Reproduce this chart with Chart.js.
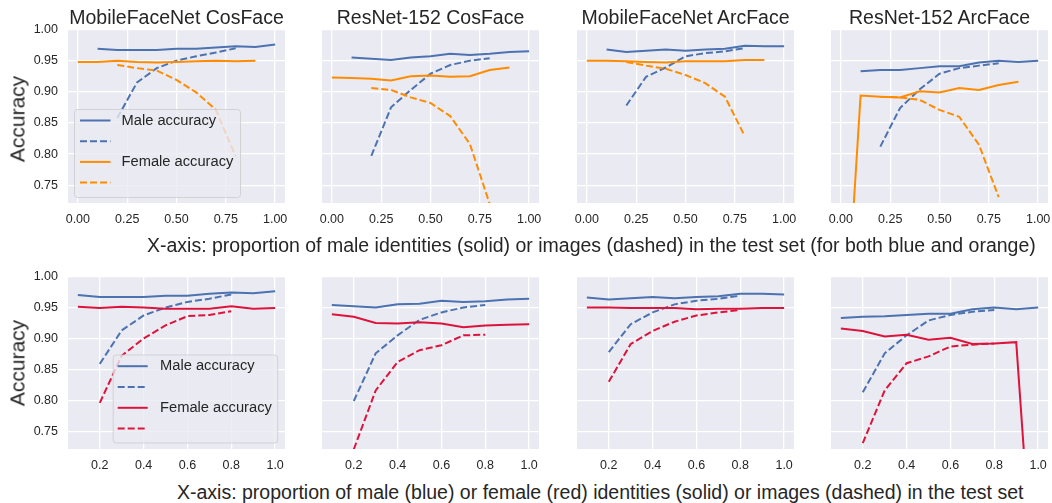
<!DOCTYPE html>
<html><head><meta charset="utf-8">
<script src="https://cdn.jsdelivr.net/npm/chart.js@4.4.1/dist/chart.umd.min.js"></script>
<style>
html,body{margin:0;padding:0;background:#fff;width:1052px;height:503px;overflow:hidden;position:relative;font-family:"Liberation Sans",Arial,sans-serif;color:#262626;}
canvas{position:absolute;}
.t{position:absolute;white-space:nowrap;line-height:1;color:#262626;}
</style></head><body>
<script>
// ---------- x values ----------
const maleIdPropTop   = [0.1,0.2,0.3,0.4,0.5,0.6,0.7,0.8,0.9,1.0];
const femaleIdPropTop = [0.0,0.1,0.2,0.3,0.4,0.5,0.6,0.7,0.8,0.9];
const imgProp         = [0.2,0.3,0.4,0.5,0.6,0.7,0.8];
const idPropBottom    = [0.1,0.2,0.3,0.4,0.5,0.6,0.7,0.8,0.9,1.0];

// ---------- tick values / labels ----------
const topXTicks = [0, 0.25, 0.5, 0.75, 1.0];
const topXLabels = ['0.00','0.25','0.50','0.75','1.00'];
const botXTicks = [0.2, 0.4, 0.6, 0.8, 1.0];
const botXLabels = ['0.2','0.4','0.6','0.8','1.0'];
const yTicks = [0.75, 0.80, 0.85, 0.90, 0.95, 1.00];
const yLabels = ['0.75','0.80','0.85','0.90','0.95','1.00'];

// ---------- text ----------
const panelTitles = ['MobileFaceNet CosFace','ResNet-152 CosFace','MobileFaceNet ArcFace','ResNet-152 ArcFace'];
const legendLabels = ['Male accuracy','','Female accuracy',''];
const yTitle = 'Accuracy';
const topXTitle = 'X-axis: proportion of male identities (solid) or images (dashed) in the test set (for both blue and orange)';
const botXTitle = 'X-axis: proportion of male (blue) or female (red) identities (solid) or images (dashed) in the test set';

// ---------- top row series ----------
const mfnCos_maleId   = [0.969,0.967,0.967,0.967,0.969,0.969,0.971,0.973,0.972,0.976];
const mfnCos_maleImg  = [0.858,0.915,0.938,0.950,0.957,0.963,0.970];
const mfnCos_femaleId = [0.948,0.948,0.950,0.948,0.947,0.948,0.949,0.950,0.949,0.950];
const mfnCos_femaleImg= [0.943,0.938,0.934,0.919,0.899,0.871,0.796];

const rnCos_maleId    = [0.955,0.953,0.951,0.955,0.957,0.961,0.959,0.961,0.964,0.965];
const rnCos_maleImg   = [0.797,0.875,0.903,0.929,0.943,0.950,0.954];
const rnCos_femaleId  = [0.923,0.922,0.921,0.918,0.925,0.926,0.924,0.925,0.935,0.939];
const rnCos_femaleImg = [0.906,0.903,0.891,0.882,0.861,0.816,0.720];

const mfnArc_maleId   = [0.968,0.964,0.966,0.968,0.966,0.968,0.969,0.974,0.973,0.973];
const mfnArc_maleImg  = [0.878,0.924,0.939,0.957,0.962,0.965,0.970];
const mfnArc_femaleId = [0.950,0.950,0.949,0.948,0.947,0.949,0.949,0.949,0.951,0.951];
const mfnArc_femaleImg= [0.948,0.942,0.937,0.927,0.914,0.892,0.829];

const rnArc_maleId    = [0.933,0.935,0.935,0.938,0.941,0.941,0.947,0.950,0.948,0.950];
const rnArc_maleImg   = [0.812,0.874,0.904,0.929,0.938,0.942,0.946];
const rnArc_femaleId  = [0.390,0.894,0.892,0.891,0.901,0.899,0.906,0.903,0.911,0.916];
const rnArc_femaleImg = [0.892,0.891,0.887,0.871,0.860,0.815,0.731];

// ---------- bottom row series ----------
const mfnCosB_maleId   = [0.970,0.967,0.967,0.967,0.969,0.969,0.972,0.974,0.973,0.976];
const mfnCosB_maleImg  = [0.859,0.913,0.937,0.950,0.959,0.964,0.971];
const mfnCosB_femaleId = [0.951,0.949,0.951,0.950,0.948,0.948,0.948,0.952,0.948,0.949];
const mfnCosB_femaleImg= [0.796,0.872,0.900,0.921,0.936,0.938,0.944];

const rnCosB_maleId    = [0.954,0.952,0.950,0.955,0.956,0.961,0.959,0.960,0.963,0.964];
const rnCosB_maleImg   = [0.799,0.876,0.905,0.930,0.942,0.950,0.954];
const rnCosB_femaleId  = [0.939,0.935,0.925,0.924,0.926,0.924,0.918,0.921,0.922,0.923];
const rnCosB_femaleImg = [0.721,0.816,0.862,0.881,0.889,0.905,0.906];

const mfnArcB_maleId   = [0.966,0.963,0.965,0.967,0.965,0.967,0.968,0.972,0.972,0.971];
const mfnArcB_maleImg  = [0.878,0.923,0.942,0.955,0.961,0.964,0.969];
const mfnArcB_femaleId = [0.950,0.950,0.949,0.949,0.949,0.947,0.948,0.948,0.949,0.949];
const mfnArcB_femaleImg= [0.830,0.891,0.912,0.927,0.937,0.942,0.946];

const rnArcB_maleId    = [0.933,0.935,0.936,0.938,0.940,0.940,0.947,0.950,0.947,0.950];
const rnArcB_maleImg   = [0.813,0.876,0.905,0.929,0.938,0.943,0.946];
const rnArcB_femaleId  = [0.916,0.912,0.903,0.906,0.898,0.901,0.891,0.892,0.894,0.390];
const rnArcB_femaleImg = [0.731,0.816,0.860,0.871,0.887,0.890,0.892];

// ---------- styles ----------
const BLUE = '#4C72B0', ORANGE = '#FF8C00', RED = '#DC143C';
const FONT = '"Liberation Sans", Arial, sans-serif';
const DASH = [7, 3];
const LW = 2;

const pts = (xs, ys) => xs.map((x, i) => ({x: x, y: ys[i]}));

const bgPlugin = {
  id: 'bgFill',
  beforeDraw(chart) {
    const a = chart.chartArea, ctx = chart.ctx;
    ctx.save(); ctx.fillStyle = '#EAEAF2';
    ctx.fillRect(a.left, a.top, a.right - a.left, a.bottom - a.top);
    ctx.restore();
  }
};

const inLegend = {
  id: 'inLegend',
  afterDatasetsDraw(chart, args, o) {
    if (!o || !o.show) return;
    const ctx = chart.ctx, a = chart.chartArea;
    const x0 = a.left + o.dx, y0 = a.top + o.dy;
    ctx.save();
    ctx.beginPath();
    if (ctx.roundRect) ctx.roundRect(x0 + 0.5, y0 + 0.5, o.w, o.h, 3); else ctx.rect(x0 + 0.5, y0 + 0.5, o.w, o.h);
    ctx.fillStyle = 'rgba(234,234,242,0.8)'; ctx.fill();
    ctx.strokeStyle = 'rgba(204,204,204,0.8)'; ctx.lineWidth = 1; ctx.stroke();
    chart.data.datasets.forEach((ds, i) => {
      const y = y0 + o.rowTop + i * o.rowGap;
      ctx.beginPath(); ctx.setLineDash(ds.borderDash || []);
      ctx.strokeStyle = ds.borderColor; ctx.lineWidth = ds.borderWidth;
      ctx.moveTo(x0 + o.lineX, y); ctx.lineTo(x0 + o.lineX + o.lineLen, y); ctx.stroke();
      ctx.setLineDash([]);
      if (ds.label) {
        ctx.fillStyle = '#262626'; ctx.font = o.font; ctx.textBaseline = 'middle'; ctx.textAlign = 'left';
        ctx.fillText(ds.label, x0 + o.textX, y);
      }
    });
    ctx.restore();
  }
};

const YW = 60, PT = 22, PR = 32, XH = 30;
const colLefts = [68, 322, 577, 831];
const PW = 217;
const rows = [
  {top: 29, h: 174, xmin: -0.05, xmax: 1.05, xt: topXTicks, xl: topXLabels, female: ORANGE,
   legend: {show: true, dx: 6, dy: 80, w: 166, h: 88, rowTop: 11.5, rowGap: 20.7, lineX: 6, lineLen: 30.5, textX: 47.5, font: '14.7px ' + FONT},
   panels: [
     [pts(maleIdPropTop, mfnCos_maleId), pts(imgProp, mfnCos_maleImg), pts(femaleIdPropTop, mfnCos_femaleId), pts(imgProp, mfnCos_femaleImg)],
     [pts(maleIdPropTop, rnCos_maleId), pts(imgProp, rnCos_maleImg), pts(femaleIdPropTop, rnCos_femaleId), pts(imgProp, rnCos_femaleImg)],
     [pts(maleIdPropTop, mfnArc_maleId), pts(imgProp, mfnArc_maleImg), pts(femaleIdPropTop, mfnArc_femaleId), pts(imgProp, mfnArc_femaleImg)],
     [pts(maleIdPropTop, rnArc_maleId), pts(imgProp, rnArc_maleImg), pts(femaleIdPropTop, rnArc_femaleId), pts(imgProp, rnArc_femaleImg)]
   ]},
  {top: 276, h: 173, xmin: 0.055, xmax: 1.045, xt: botXTicks, xl: botXLabels, female: RED,
   legend: {show: true, dx: 44.7, dy: 78.5, w: 164.5, h: 88, rowTop: 11.7, rowGap: 20.8, lineX: 5, lineLen: 30, textX: 47.3, font: '14.7px ' + FONT},
   panels: [
     [pts(idPropBottom, mfnCosB_maleId), pts(imgProp, mfnCosB_maleImg), pts(idPropBottom, mfnCosB_femaleId), pts(imgProp, mfnCosB_femaleImg)],
     [pts(idPropBottom, rnCosB_maleId), pts(imgProp, rnCosB_maleImg), pts(idPropBottom, rnCosB_femaleId), pts(imgProp, rnCosB_femaleImg)],
     [pts(idPropBottom, mfnArcB_maleId), pts(imgProp, mfnArcB_maleImg), pts(idPropBottom, mfnArcB_femaleId), pts(imgProp, mfnArcB_femaleImg)],
     [pts(idPropBottom, rnArcB_maleId), pts(imgProp, rnArcB_maleImg), pts(idPropBottom, rnArcB_femaleId), pts(imgProp, rnArcB_femaleImg)]
   ]}
];

function addText(txt, css) {
  const d = document.createElement('div');
  d.className = 't'; d.textContent = txt;
  Object.assign(d.style, css);
  document.body.appendChild(d);
}

rows.forEach((row, r) => {
  row.panels.forEach((series, c) => {
    const cv = document.createElement('canvas');
    const W = YW + PW + PR, H = PT + row.h + XH;
    cv.width = W; cv.height = H;
    cv.style.left = (colLefts[c] - YW) + 'px';
    cv.style.top = (row.top - PT) + 'px';
    cv.style.width = W + 'px'; cv.style.height = H + 'px';
    document.body.appendChild(cv);
    const colors = [BLUE, BLUE, row.female, row.female];
    const datasets = series.map((d, i) => ({
      label: legendLabels[i], data: d,
      borderColor: colors[i], backgroundColor: colors[i],
      borderWidth: LW, borderDash: (i % 2 === 1) ? DASH : [],
      pointRadius: 0, tension: 0, fill: false, clip: 0,
      order: 3 - i
    }));
    new Chart(cv, {
      type: 'line',
      data: {datasets: datasets},
      plugins: [bgPlugin, inLegend],
      options: {
        responsive: false, animation: false, devicePixelRatio: 1,
        layout: {padding: {left: 0, right: PR, top: PT, bottom: 0}},
        plugins: {
          legend: {display: false}, tooltip: {enabled: false},
          inLegend: c === 0 ? row.legend : {show: false}
        },
        scales: {
          x: {
            type: 'linear', min: row.xmin, max: row.xmax,
            afterBuildTicks: s => { s.ticks = row.xt.map(v => ({value: v})); },
            afterFit: s => { s.height = XH; },
            ticks: {callback: (v, i) => row.xl[i], font: {family: FONT, size: 12.5}, color: '#262626', padding: 9, maxRotation: 0, autoSkip: false},
            grid: {color: '#ffffff', lineWidth: 1.3, drawTicks: false},
            border: {display: false}
          },
          y: {
            type: 'linear', min: 0.7215, max: 1.0008,
            afterBuildTicks: s => { s.ticks = yTicks.map(v => ({value: v})); },
            afterFit: s => { s.width = YW; },
            ticks: {display: c === 0, callback: (v, i) => yLabels[i], font: {family: FONT, size: 12.5}, color: '#262626', padding: 10, autoSkip: false},
            grid: {color: '#ffffff', lineWidth: 1.3, drawTicks: false},
            border: {display: false}
          }
        }
      }
    });
    if (r === 0) {
      addText(panelTitles[c], {left: (colLefts[c] + PW / 2) + 'px', top: '7.5px', fontSize: '19.5px', transform: 'translateX(-50%)'});
    }
  });
  addText(yTitle, {left: '16.7px', top: (r === 0 ? 118.5 : 362.5) + 'px', fontSize: '21px', transform: 'translate(-50%,-50%) rotate(-90deg)'});
});
addText(topXTitle, {left: '147px', top: '235.5px', fontSize: '19.5px'});
addText(botXTitle, {left: '177px', top: '482.5px', fontSize: '19.5px'});
</script>
</body></html>
